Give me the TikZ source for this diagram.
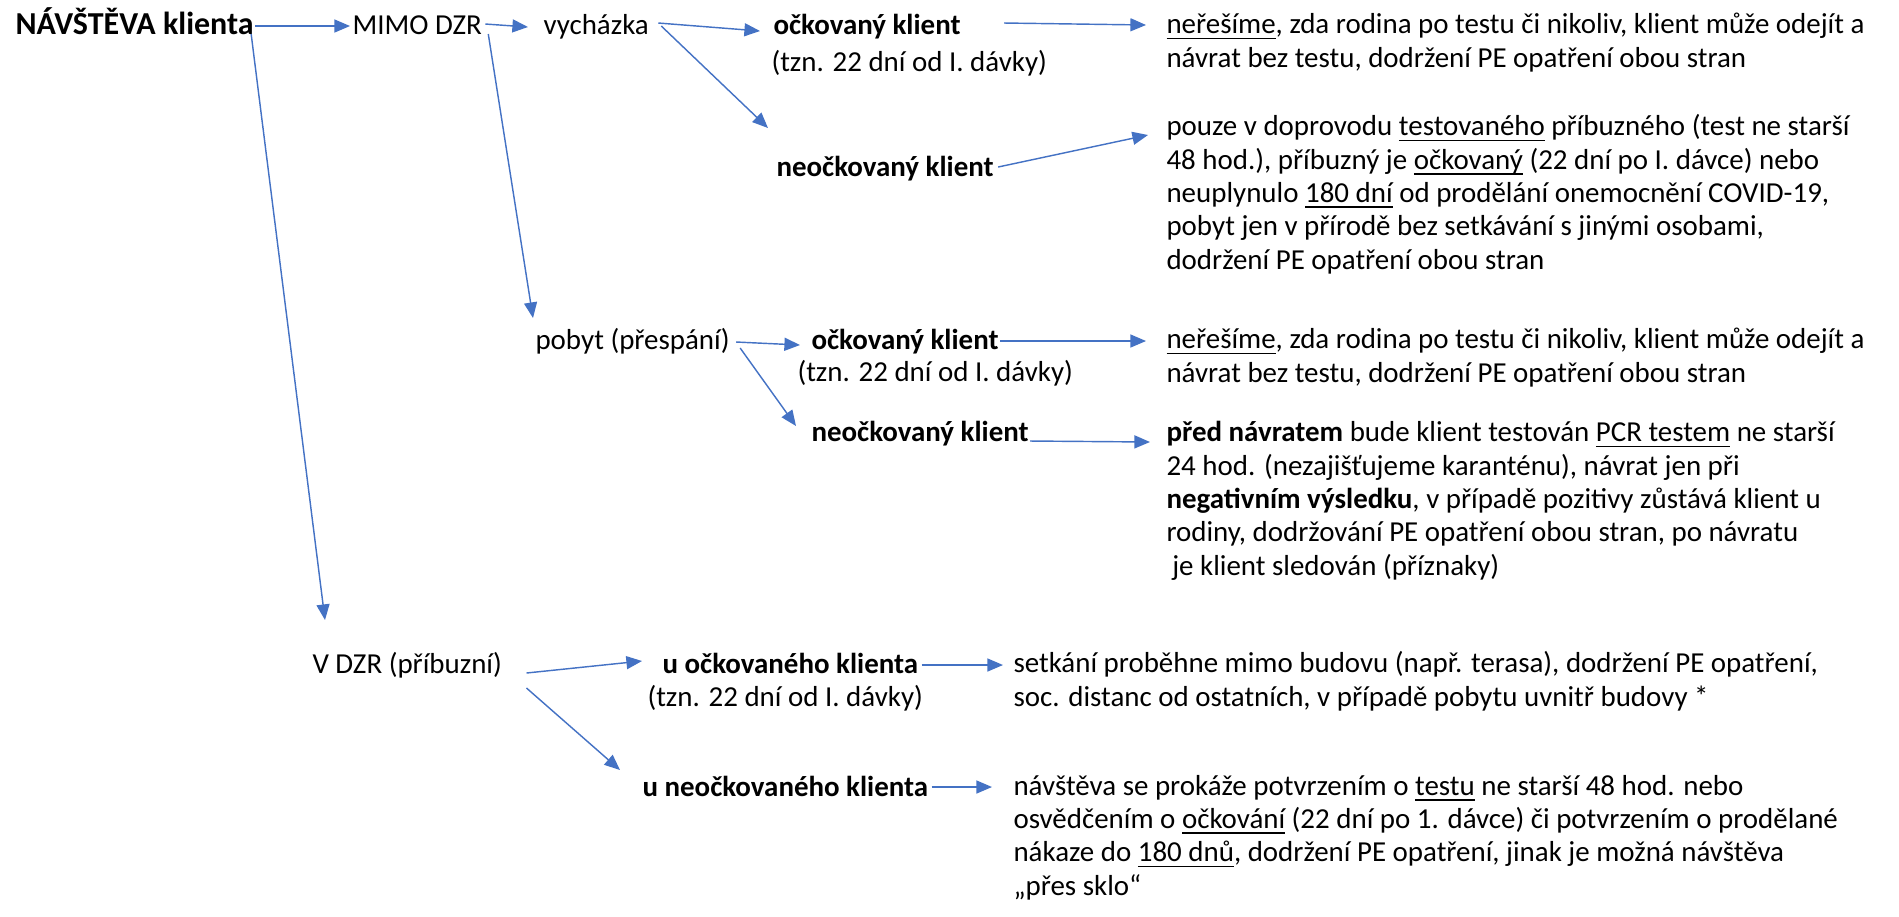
\documentclass[tikz,border=0pt]{standalone}
\usepackage{fontspec}
\setmainfont{Carlito}
\usetikzlibrary{arrows.meta,calc}
\definecolor{arrowblue}{HTML}{4472C4}
\newsavebox\undlbox
\newcommand{\undl}[1]{\sbox\undlbox{#1}\rlap{\vrule height -1.5pt depth 2.1pt width \wd\undlbox}\usebox\undlbox}
\tikzset{
  lbl/.style={inner sep=0pt, anchor=base west, font=\fontsize{11.13}{12.8}\selectfont},
  hd/.style={lbl, font=\fontsize{11.13}{12.8}\selectfont\bfseries},
  note/.style={lbl, align=left},
  conn/.style={draw=arrowblue, line width=0.55pt, -{Triangle[length=6pt,width=5pt]}},
}
\begin{document}
\begin{tikzpicture}[x=0.3846pt, y=0.3846pt]
        \useasboundingbox (0,0) rectangle (1899,-916);

        % Root and first level
        \node[hd, font=\fontsize{12.3}{14}\selectfont\bfseries] (navsteva) at (15,-34) {NÁVŠTĚVA klienta};
        \node[lbl] (mimo) at (352,-34) {MIMO DZR};
        \node[lbl] (vdzr) at (312,-673) {V DZR (příbuzní)};

        % MIMO DZR: vycházka (notes sit on the baseline of their last line)
        \node[lbl] (vychazka) at (543,-34) {vycházka};
        \node[hd] (vychOck) at (773,-34) {očkovaný klient};
        \node[lbl] (vychOckTzn) at (771,-71) {(tzn. 22 dní od I. dávky)};
        \node[hd] (vychNeock) at (776,-176) {neočkovaný klient};
        \node[note] (vychOckNote) at (1166,-67)
            {\undl{neřešíme}, zda rodina po testu či nikoliv, klient může odejít a\\
             návrat bez testu, dodržení PE opatření obou stran};
        \node[note] (vychNeockNote) at (1166,-269)
            {pouze v doprovodu \undl{testovaného} příbuzného (test ne starší\\
             48 hod.), příbuzný je \undl{očkovaný} (22 dní po I. dávce) nebo\\
             neuplynulo \undl{180 dní} od prodělání onemocnění COVID-19,\\
             pobyt jen v přírodě bez setkávání s jinými osobami,\\
             dodržení PE opatření obou stran};

        % MIMO DZR: pobyt
        \node[lbl] (pobyt) at (535,-349) {pobyt (přespání)};
        \node[hd] (pobOck) at (811,-349) {očkovaný klient};
        \node[lbl] (pobOckTzn) at (797,-381) {(tzn. 22 dní od I. dávky)};
        \node[hd] (pobNeock) at (811,-441) {neočkovaný klient};
        \node[note] (pobOckNote) at (1166,-382)
            {\undl{neřešíme}, zda rodina po testu či nikoliv, klient může odejít a\\
             návrat bez testu, dodržení PE opatření obou stran};
        \node[note] (pobNeockNote) at (1166,-575)
            {\textbf{před návratem} bude klient testován \undl{PCR testem} ne starší\\
             24 hod. (nezajišťujeme karanténu), návrat jen při\\
             \textbf{negativním výsledku}, v případě pozitivy zůstává klient u\\
             rodiny, dodržování PE opatření obou stran, po návratu\\
             \hspace*{2.2pt}je klient sledován (příznaky)};

        % V DZR
        \node[hd] (dzrOck) at (662,-673) {u očkovaného klienta};
        \node[lbl] (dzrOckTzn) at (647,-706) {(tzn. 22 dní od I. dávky)};
        \node[hd] (dzrNeock) at (642,-796) {u neočkovaného klienta};
        \node[note] (dzrOckNote) at (1013,-706)
            {setkání proběhne mimo budovu (např. terasa), dodržení PE opatření,\\
             soc. distanc od ostatních, v případě pobytu uvnitř budovy *};
        \node[note] (dzrNeockNote) at (1013,-895)
            {návštěva se prokáže potvrzením o \undl{testu} ne starší 48 hod. nebo\\
             osvědčením o \undl{očkování} (22 dní po 1. dávce) či potvrzením o prodělané\\
             nákaze do \undl{180 dnů}, dodržení PE opatření, jinak je možná návštěva\\
             „přes sklo“};

        % Connectors
        \draw[conn] ($(navsteva.base east)+(1,8)$) -- ($(mimo.base west)+(-2,8)$);
        \draw[conn] ($(navsteva.base east)+(-3,0)$) -- ($(vdzr.base west)+(13,53)$);
        \draw[conn] ($(mimo.base east)+(3,10)$) -- ($(vychazka.base west)+(-15,7)$);
        \draw[conn] ($(mimo.base east)+(6,0)$) -- ($(pobyt.base west)+(-2,31)$);
        \draw[conn] ($(vychazka.base east)+(9,11)$) -- ($(vychOck.base west)+(-13,3)$);
        \draw[conn] ($(vychazka.base east)+(12,8)$) -- ($(vychNeock.base west)+(-8,48)$);
        \draw[conn] ($(vychOck.base east)+(43,11)$) -- ($(vychOckNote.base west)+(-20,42)$);
        \draw[conn] ($(vychNeock.base east)+(4,9)$) -- ($(vychNeockNote.base west)+(-18,134)$);
        \draw[conn] ($(pobyt.base east)+(6,7)$) -- ($(pobOck.base west)+(-11,4)$);
        \draw[conn] ($(pobyt.base east)+(10,1)$) -- ($(pobNeock.base west)+(-15,15)$);
        \draw[conn] ($(pobOck.base east)+(1,8)$) -- ($(pobOckNote.base west)+(-20,41)$);
        \draw[conn] ($(pobNeock.base east)+(1,0)$) -- ($(pobNeockNote.base west)+(-16,133)$);
        \draw[conn] ($(vdzr.base east)+(24,0)$) -- ($(dzrOck.base west)+(-20,12)$);
        \draw[conn] ($(vdzr.base east)+(24,-15)$) -- ($(dzrNeock.base west)+(-22,26)$);
        \draw[conn] ($(dzrOck.base east)+(3,8)$) -- ($(dzrOckNote.base west)+(-10,41)$);
        \draw[conn] ($(dzrNeock.base east)+(3,9)$) -- ($(dzrNeockNote.base west)+(-21,108)$);
\end{tikzpicture}
\end{document}
